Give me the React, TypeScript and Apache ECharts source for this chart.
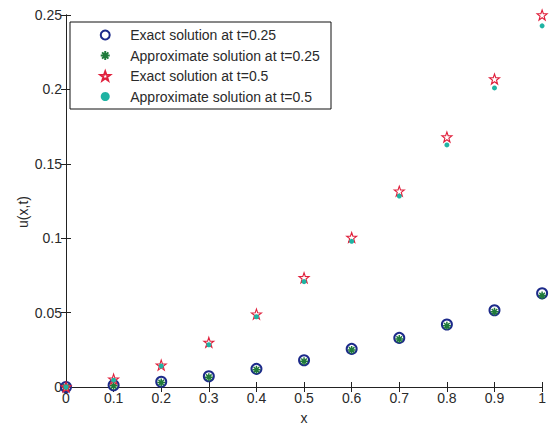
import React, { useEffect, useRef } from "react";
import * as echarts from "echarts";

const xValues = [0, 0.1, 0.2, 0.3, 0.4, 0.5, 0.6, 0.7, 0.8, 0.9, 1];
const exactT025 = [0, 0.0012, 0.0035, 0.0072, 0.0122, 0.018, 0.0256, 0.033, 0.042, 0.0516, 0.063];
const approxT025 = [0, 0.0008, 0.003, 0.0066, 0.0116, 0.0173, 0.0249, 0.0322, 0.0411, 0.0506, 0.0615];
const exactT05 = [0, 0.0053, 0.0147, 0.030, 0.049, 0.0734, 0.1005, 0.1316, 0.168, 0.207, 0.25];
const approxT05 = [0, 0.0046, 0.0141, 0.0284, 0.0472, 0.0708, 0.0979, 0.1283, 0.1627, 0.201, 0.2427];
const seriesNames = [
  "Exact solution at t=0.25",
  "Approximate solution at t=0.25",
  "Exact solution at t=0.5",
  "Approximate solution at t=0.5",
];

function starPath(): string {
  const pts: string[] = [];
  for (let i = 0; i < 10; i++) {
    const r = i % 2 === 0 ? 10 : 4;
    const a = -Math.PI / 2 + (i * Math.PI) / 5;
    pts.push(`${(10 + r * Math.cos(a)).toFixed(2)},${(10 + r * Math.sin(a)).toFixed(2)}`);
  }
  return "path://M" + pts.join("L") + "Z";
}
const asteriskPath =
  "path://M10,0L10,20M0,10L20,10M3,3L17,17M3,17L17,3";

const FONT = "'Liberation Sans', Arial, sans-serif";
const TXT = "#2a2a2a";

export default function App() {
  const ref = useRef<HTMLDivElement>(null);
  useEffect(() => {
    if (!ref.current) return;
    const chart = echarts.init(ref.current, undefined, { renderer: "svg" });
    const pair = (ys: number[]) => xValues.map((x, i) => [x, ys[i]]);
    const axisLine = { show: true, lineStyle: { color: "#222", width: 1 } };
    const tick = { show: true, inside: true, length: 5, lineStyle: { color: "#222" } };
    chart.setOption({
      animation: false,
      backgroundColor: "#fff",
      textStyle: { fontFamily: FONT },
      grid: { left: 66, top: 15, right: 5, bottom: 37, show: false },
      xAxis: [
        {
          type: "value", min: 0, max: 1, interval: 0.1, position: "bottom",
          name: "x", nameLocation: "middle", nameGap: 24,
          nameTextStyle: { color: TXT, fontSize: 14, fontFamily: FONT },
          axisLine, axisTick: tick, splitLine: { show: false },
          axisLabel: { color: TXT, fontSize: 14, margin: 4, fontFamily: FONT },
        },
        {
          type: "value", min: 0, max: 1, interval: 0.1, position: "top",
          axisLine, axisTick: tick, splitLine: { show: false }, axisLabel: { show: false },
        },
      ],
      yAxis: [
        {
          type: "value", min: 0, max: 0.25, interval: 0.05, position: "left",
          axisLine, axisTick: tick, splitLine: { show: false },
          axisLabel: { color: TXT, fontSize: 14, margin: 4, fontFamily: FONT },
        },
        {
          type: "value", min: 0, max: 0.25, interval: 0.05, position: "right",
          axisLine, axisTick: tick, splitLine: { show: false }, axisLabel: { show: false },
        },
      ],
      graphic: [
        {
          type: "rect", z: 3, shape: { x: 70, y: 22, width: 261, height: 87 },
          style: { fill: "#fff", stroke: "#111", lineWidth: 1 },
        },
        {
          type: "text", x: 23, y: 212, rotation: Math.PI / 2, z: 3,
          style: { text: "u(x,t)", fill: TXT, font: `14px ${FONT}`, align: "center", verticalAlign: "middle" },
        },
      ],
      legend: {
        show: true, orient: "vertical", left: 98, top: 22, z: 10,
        padding: [6, 8, 5, 0], itemGap: 6.5, itemWidth: 10, itemHeight: 9,
        textStyle: { color: TXT, fontSize: 14, fontFamily: FONT, lineHeight: 14, padding: [0, 0, 0, 15] },
        data: seriesNames,
      },
      series: [
        {
          name: seriesNames[0], type: "scatter", data: pair(exactT025),
          symbol: "emptyCircle", symbolSize: 10,
          itemStyle: { color: "#1c2a8a", borderColor: "#1c2a8a", borderWidth: 1.4, opacity: 1 },
        },
        {
          name: seriesNames[1], type: "scatter", data: pair(approxT025),
          symbol: asteriskPath, symbolSize: 8,
          itemStyle: { color: "none", borderColor: "#1f7a3a", borderWidth: 1.5, opacity: 1 },
        },
        {
          name: seriesNames[2], type: "scatter", data: pair(exactT05),
          symbol: starPath(), symbolSize: 10,
          itemStyle: { color: "none", borderColor: "#e0203c", borderWidth: 1.1, opacity: 1 },
        },
        {
          name: seriesNames[3], type: "scatter", data: pair(approxT05),
          symbol: "circle", symbolSize: 5,
          itemStyle: { color: "#1fb3a3", borderWidth: 0, opacity: 1 },
        },
      ],
    });
    return () => chart.dispose();
  }, []);
  return (
    <div
      ref={ref}
      style={{ position: "absolute", left: 0, top: 0, width: 549, height: 430 }}
    />
  );
}
